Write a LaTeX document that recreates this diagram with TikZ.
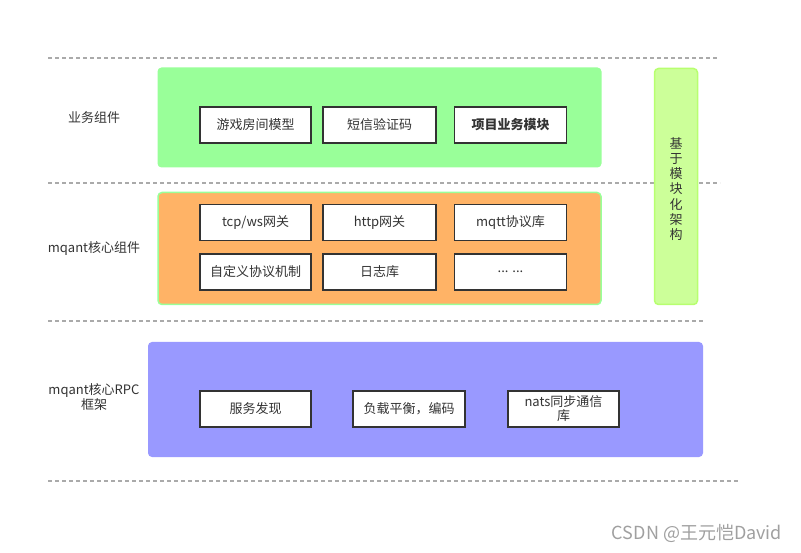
\documentclass[tikz,border=0pt]{standalone}
\usepackage{fontspec}
\setmainfont{Noto Sans CJK SC}
\definecolor{txt}{HTML}{333333}
\definecolor{dashc}{HTML}{AAAAAA}
\definecolor{grn}{HTML}{99FF99}
\definecolor{org}{HTML}{FFB366}
\definecolor{blu}{HTML}{9999FF}
\definecolor{side}{HTML}{CCFF99}
\definecolor{sideb}{HTML}{B8FF70}
\definecolor{wm}{HTML}{A0A0A0}
\tikzset{
  sep/.style={draw=dashc, line width=1.2pt, dash pattern=on 4pt off 3pt},
  layer/.style={rounded corners=4pt, inner sep=0pt},
  item/.style={draw=txt, line width=1.6pt, fill=white, inner sep=0pt, text=txt,
    font=\fontsize{13}{15}\selectfont, align=center},
  lbl/.style={text=txt, font=\fontsize{13}{15}\selectfont, align=center},
}
\begin{document}
\begin{tikzpicture}[x=1pt,y=-1pt]
\useasboundingbox (0,0) rectangle (801,553);
\fill[white] (0,0) rectangle (801,553);
% separators
\coordinate (s1a) at (48,58);  \coordinate (s1b) at (718,58);
\coordinate (s2a) at (48,183); \coordinate (s2b) at (720,183);
\coordinate (s3a) at (48,321); \coordinate (s3b) at (703,321);
\coordinate (s4a) at (48,481); \coordinate (s4b) at (738,481);
\draw[sep] (s1a) -- (s1b);
\draw[sep] (s2a) -- (s2b);
\draw[sep] (s3a) -- (s3b);
\draw[sep] (s4a) -- (s4b);
% layers
\node[layer, fill=grn, minimum width=444pt, minimum height=100pt] (L1) at (379.5,117.5) {};
\node[layer, fill=org, draw=grn, line width=1.5pt, minimum width=443pt, minimum height=112pt] (L2) at (379.5,248.5) {};
\node[layer, fill=blu, minimum width=555pt, minimum height=115pt] (L3) at (425.5,399.5) {};
\node[layer, fill=side, draw=sideb, line width=1.5pt, minimum width=43pt, minimum height=236pt] (SD) at (676,186.5) {};
\node[lbl, align=center, font=\fontsize{13}{15.3}\selectfont] (SDt) at (676,189) {基\\于\\模\\块\\化\\架\\构};
% layer labels
\node[lbl] (T1) at (94,118) {业务组件};
\node[lbl] (T2) at (94,249) {mqant核心组件};
\node[lbl, font=\fontsize{13}{15}\selectfont] (T3) at (94,397) {mqant核心RPC\\框架};
% row 1
\node[item, minimum width=111pt, minimum height=36pt] (a1) at (255.5,125) {游戏房间模型};
\node[item, minimum width=113pt, minimum height=36pt] (a2) at (379.5,125) {短信验证码};
\node[item, minimum width=112pt, minimum height=36pt, font=\fontsize{13}{15}\selectfont\bfseries] (a3) at (510.5,125) {项目业务模块};
% row 2
\node[item, minimum width=111pt, minimum height=36pt] (b1) at (255.5,222.5) {tcp/ws网关};
\node[item, minimum width=113pt, minimum height=36pt] (b2) at (379.5,222.5) {http网关};
\node[item, minimum width=112pt, minimum height=36pt] (b3) at (510.5,222.5) {mqtt协议库};
% row 3
\node[item, minimum width=111pt, minimum height=36pt] (c1) at (255.5,272) {自定义协议机制};
\node[item, minimum width=113pt, minimum height=36pt] (c2) at (379.5,272) {日志库};
\node[item, minimum width=112pt, minimum height=36pt] (c3) at (510.5,272) {... ...};
% row 4
\node[item, minimum width=111pt, minimum height=36pt] (d1) at (255.5,409) {服务发现};
\node[item, minimum width=112pt, minimum height=36pt] (d2) at (409,409) {负载平衡，编码};
\node[item, minimum width=111pt, minimum height=36pt, font=\fontsize{13}{14}\selectfont] (d3) at (563.5,409) {nats同步通信\\库};
% watermark
\node[text=wm, font=\fontsize{18}{20}\selectfont, inner sep=0pt] (wm) at (697,533) {CSDN @王元恺David};
\end{tikzpicture}
\end{document}
